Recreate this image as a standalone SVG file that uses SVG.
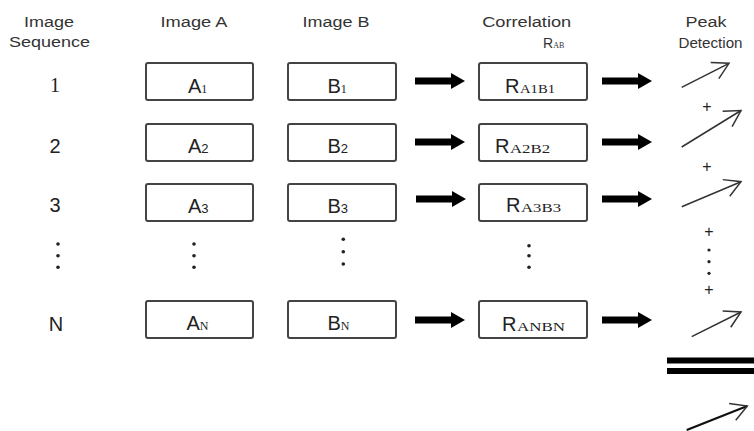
<svg xmlns="http://www.w3.org/2000/svg" width="754" height="431" viewBox="0 0 754 431">
<style>
.h{font-family:"Liberation Sans",Arial,sans-serif;font-size:14px;fill:#333;text-anchor:middle}
.lab{font-family:"Liberation Sans",Arial,sans-serif;font-size:20px;fill:#222;text-anchor:middle}
.box{fill:#fff;stroke:#444;stroke-width:2}
.t{font-family:"Liberation Sans",Arial,sans-serif;font-size:20px;fill:#222}
.ss{font-family:"Liberation Serif","Times New Roman",serif;font-size:12px;fill:#222}
.sn{font-family:"Liberation Sans",Arial,sans-serif;font-size:13px;fill:#222}
.pk{stroke:#333;stroke-width:1.5;fill:none;marker-end:url(#open)}
.dot{fill:#222}
.plus{font-family:"Liberation Sans",Arial,sans-serif;font-size:16px;fill:#222;text-anchor:middle}
</style>
<defs>
<marker id="open" markerUnits="userSpaceOnUse" markerWidth="24" markerHeight="24" viewBox="-20 -12 24 24" refX="0" refY="0" orient="auto">
<path d="M-16,-9 L0,0 L-16,9" fill="none" stroke="#333" stroke-width="1.5"/>
</marker>
<path id="blk" d="M0,-3.5 L36,-3.5 L36,-8 L50,0 L36,8 L36,3.5 L0,3.5 Z" fill="#000"/>
</defs>

<g id="headers">
<text class="h" x="49" y="27" textLength="50" lengthAdjust="spacingAndGlyphs">Image</text>
<text class="h" x="49.5" y="47" textLength="81" lengthAdjust="spacingAndGlyphs">Sequence</text>
<text class="h" x="194" y="27" textLength="67" lengthAdjust="spacingAndGlyphs">Image A</text>
<text class="h" x="336" y="27" textLength="67" lengthAdjust="spacingAndGlyphs">Image B</text>
<text class="h" x="526.7" y="27" textLength="89" lengthAdjust="spacingAndGlyphs">Correlation</text>
<text class="h" x="554" y="48" style="text-anchor:start" transform="translate(-11,0)"><tspan>R</tspan><tspan style="font-family:'Liberation Serif',serif;font-size:8px">AB</tspan></text>
<text class="h" x="706" y="27" textLength="41" lengthAdjust="spacingAndGlyphs">Peak</text>
<text class="h" x="710.5" y="48" textLength="64" lengthAdjust="spacingAndGlyphs">Detection</text>
</g>

<g id="row-labels">
<text class="lab" x="55" y="91.5" style="font-family:'Liberation Serif',serif">1</text>
<text class="lab" x="55" y="152.5">2</text>
<text class="lab" x="55" y="211.5">3</text>
<text class="lab" x="56" y="330.5">N</text>
<circle class="dot" cx="58" cy="244" r="1.8"/><circle class="dot" cx="58" cy="255.7" r="1.8"/><circle class="dot" cx="58" cy="267.3" r="1.8"/>
</g>

<g id="A1"><rect class="box" x="146" y="63" width="107" height="37" rx="2"/><text class="t" x="188" y="93">A<tspan class="ss" font-size="11">1</tspan></text></g>
<g id="A2"><rect class="box" x="146" y="124" width="107" height="37" rx="2"/><text class="t" x="188" y="153">A<tspan class="sn">2</tspan></text></g>
<g id="A3"><rect class="box" x="146" y="184" width="107" height="37" rx="2"/><text class="t" x="188" y="213">A<tspan class="sn">3</tspan></text></g>
<g id="A-dots"><circle class="dot" cx="194" cy="244" r="1.8"/><circle class="dot" cx="194" cy="255.7" r="1.8"/><circle class="dot" cx="194" cy="267.3" r="1.8"/></g>
<g id="AN"><rect class="box" x="146" y="301" width="107" height="37" rx="2"/><text class="t" x="186.5" y="330">A<tspan class="ss" font-size="13">N</tspan></text></g>

<g id="B1"><rect class="box" x="288" y="63" width="108" height="37" rx="2"/><text class="t" x="327.5" y="93">B<tspan class="ss" font-size="11">1</tspan></text></g>
<g id="B2"><rect class="box" x="288" y="124" width="108" height="37" rx="2"/><text class="t" x="327.5" y="153">B<tspan class="sn">2</tspan></text></g>
<g id="B3"><rect class="box" x="288" y="184" width="108" height="37" rx="2"/><text class="t" x="327.5" y="213">B<tspan class="sn">3</tspan></text></g>
<g id="B-dots"><circle class="dot" cx="343.3" cy="239.3" r="1.8"/><circle class="dot" cx="343.3" cy="251.7" r="1.8"/><circle class="dot" cx="343.3" cy="264" r="1.8"/></g>
<g id="BN"><rect class="box" x="288" y="301" width="108" height="37" rx="2"/><text class="t" x="327.5" y="330">B<tspan class="ss" font-size="13">N</tspan></text></g>

<g id="R1"><rect class="box" x="479" y="63" width="108" height="37" rx="2"/><text class="t" x="505" y="93">R</text><text class="ss" x="520" y="93" textLength="35" lengthAdjust="spacingAndGlyphs">A1B1</text></g>
<g id="R2"><rect class="box" x="479" y="124" width="108" height="37" rx="2"/><text class="t" x="495" y="153">R</text><text class="ss" x="510" y="153" textLength="40" lengthAdjust="spacingAndGlyphs">A2B2</text></g>
<g id="R3"><rect class="box" x="479" y="184" width="108" height="37" rx="2"/><text class="t" x="506" y="212">R</text><text class="ss" x="521" y="212" textLength="40" lengthAdjust="spacingAndGlyphs">A3B3</text></g>
<g id="R-dots"><circle class="dot" cx="529" cy="245.7" r="1.8"/><circle class="dot" cx="529" cy="255.7" r="1.8"/><circle class="dot" cx="529" cy="267.3" r="1.8"/></g>
<g id="RN"><rect class="box" x="479" y="301" width="108" height="37" rx="2"/><text class="t" x="502" y="331">R</text><text class="ss" x="517" y="331" textLength="48" lengthAdjust="spacingAndGlyphs">ANBN</text></g>

<g id="peak">
<line class="pk" x1="681.7" y1="87.3" x2="729" y2="63.3"/>
<line class="pk" x1="681.7" y1="147" x2="741" y2="110.5"/>
<line class="pk" x1="681.7" y1="206.7" x2="741" y2="181.7"/>
<line class="pk" x1="691.7" y1="336.7" x2="741" y2="312"/>
<text class="plus" x="707" y="112">+</text>
<text class="plus" x="707" y="172">+</text>
<text class="plus" x="709" y="237">+</text>
<circle class="dot" cx="709" cy="250" r="1.6"/><circle class="dot" cx="709" cy="261.7" r="1.6"/><circle class="dot" cx="709" cy="273.3" r="1.6"/>
<text class="plus" x="709" y="295">+</text>
<rect x="667" y="357.5" width="87" height="6" fill="#000"/>
<rect x="667" y="368" width="87" height="6" fill="#000"/>
<line x1="686.7" y1="430" x2="747.3" y2="406" stroke="#111" stroke-width="2.2" marker-end="url(#open)"/>
</g>

<g id="connectors">
<use href="#blk" x="415" y="81"/>
<use href="#blk" x="602" y="81"/>
<use href="#blk" x="415" y="142"/>
<use href="#blk" x="602" y="142"/>
<use href="#blk" x="416" y="199"/>
<use href="#blk" x="602" y="199"/>
<use href="#blk" x="415" y="320"/>
<use href="#blk" x="602" y="320"/>
</g>
</svg>
